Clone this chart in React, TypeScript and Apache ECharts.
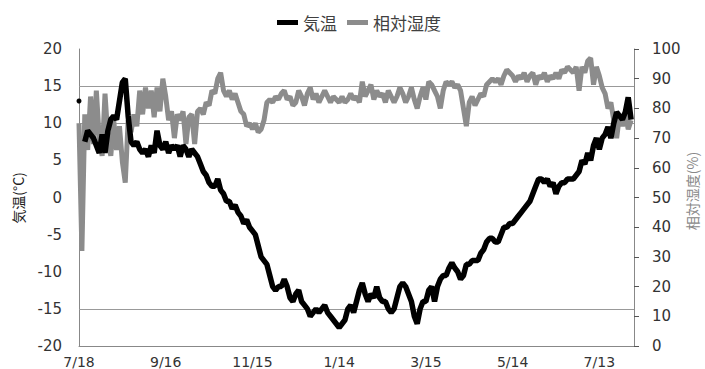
import React, { useEffect, useRef } from "react";
import * as echarts from "echarts";

// Readings every DAY_STEP days starting 7/18
const DAY_STEP = 2;
const AXIS_MAX_DAY = 384;
const TICK_INTERVAL_DAYS = 60;
const xTickLabels = ["7/18", "9/16", "11/15", "1/14", "3/15", "5/14", "7/13"];

const seriesNames = ["気温", "相対湿度"];

// Air temperature (°C); null marks a gap in the record
const temperature = [
  13, null, 7.5, 9, 8.5, 8, 7, 6, 8.5, 6,
  9, 10.5, 11, 10.5, 13, 15.5, 16, 11, 7.5, 7,
  7.5, 6.5, 6, 6.5, 5.5, 7, 6, 9, 7, 6.5,
  7.5, 6, 7, 6.5, 7, 5.5, 7, 6.5, 5.5, 6.5,
  6, 5.5, 4.5, 3.5, 3, 2, 1.5, 1.5, 2.5, 1,
  0.5, -0.5, -0.5, -1.5, -1, -2, -2.5, -3.5, -3, -4,
  -4.5, -5, -6.5, -8, -8.5, -9, -10.5, -12, -12.5, -12,
  -12, -11, -12, -13.5, -14, -13, -12.5, -14, -14.5, -15,
  -16, -15.5, -15, -15.5, -15, -14.5, -15.5, -16, -16.5, -17,
  -17.5, -17, -16.5, -15, -14.5, -15.5, -14, -12.5, -11.5, -13,
  -14, -13, -13.5, -12, -13.5, -14, -14, -15, -15.5, -15,
  -13.5, -12, -11.5, -12, -13, -14, -16, -17, -15, -14,
  -14, -12.5, -12, -14, -12, -11, -10.5, -10.5, -9.5, -8.8,
  -9.5, -10, -11, -10.5, -9, -9, -8.5, -8.5, -8.5, -7.5,
  -7, -6, -5.5, -5.5, -6, -6, -5, -4, -4, -3.5,
  -3.5, -3, -2.5, -2, -1.5, -1, -0.5, 0.5, 1.5, 2.5,
  2.5, 2, 2.5, 1.5, 2, 0.5, 1.5, 2, 2, 2.5,
  2.5, 2.5, 3, 3.5, 5, 4.5, 6, 5, 7, 8,
  6.5, 8, 8.5, 9.5, 8, 10, 11.5, 11, 10.5, 11.5,
  13.5, 10.5,
];

// Relative humidity (%)
const humidity = [
  75, 32, 78, 66, 84, 68, 86, 70, 64, 85,
  70, 64, 76, 66, 74, 62, 55, 76, 72, 78,
  74, 86, 78, 87, 80, 86, 77, 87, 79, 90,
  84, 76, 79, 70, 78, 76, 79, 68, 77, 78,
  68, 79, 80, 78, 82, 81, 86, 85, 90, 92,
  86, 84, 86, 83, 85, 82, 79, 78, 74, 75,
  73, 75, 72, 73, 76, 82, 83, 82, 84, 83,
  85, 86, 83, 84, 81, 82, 86, 84, 81, 85,
  87, 83, 85, 82, 84, 86, 84, 82, 84, 83,
  82, 84, 82, 83, 85, 83, 84, 82, 89, 84,
  86, 88, 83, 86, 84, 85, 82, 86, 84, 82,
  84, 87, 85, 82, 84, 87, 83, 80, 84, 87,
  83, 89, 88, 86, 84, 80, 86, 89, 88, 89,
  87, 88, 86, 80, 74, 82, 84, 81, 83, 85,
  84, 88, 89, 90, 89, 90, 88, 91, 93, 92,
  91, 89, 91, 90, 92, 89, 91, 92, 88, 91,
  90, 92, 89, 91, 90, 92, 90, 93, 92, 94,
  93, 92, 94, 86, 94, 92, 96, 97, 88, 94,
  91, 87, 85, 80, 82, 76, 70, 78, 74, 78,
  73, 76,
];

// Horizontal reference lines on the temperature scale
const tempGuideLines = [15, 10, -15];

const NUM_FONT = "'DejaVu Sans', Verdana, sans-serif";
const JP_FONT = "'Noto Sans CJK JP', sans-serif";

export default function App() {
  const ref = useRef<HTMLDivElement>(null);

  useEffect(() => {
    if (!ref.current) return;
    const chart = echarts.init(ref.current, null, { renderer: "svg" });

    // A reading with no neighbour on either side is drawn as a dot
    const tempData = temperature.map((v, i) => {
      const isolated =
        v !== null &&
        (i === 0 || temperature[i - 1] === null) &&
        (i === temperature.length - 1 || temperature[i + 1] === null);
      return isolated
        ? { value: [i * DAY_STEP, v], symbol: "circle", symbolSize: 5 }
        : { value: [i * DAY_STEP, v] };
    });
    const humData = humidity.map((v, i) => [i * DAY_STEP, v]);

    chart.setOption({
      animation: false,
      backgroundColor: "#ffffff",
      legend: {
        data: [
          { name: seriesNames[0], itemStyle: { color: "#000000" } },
          { name: seriesNames[1], itemStyle: { color: "#8c8c8c" } },
        ],
        left: 272,
        top: 9,
        icon: "rect",
        itemWidth: 21,
        itemHeight: 5,
        itemGap: 10,
        textStyle: { fontSize: 17, color: "#404040", fontFamily: JP_FONT },
      },
      grid: { left: 79, right: 71, top: 49, bottom: 22, containLabel: false },
      xAxis: {
        type: "value",
        min: 0,
        max: AXIS_MAX_DAY,
        interval: TICK_INTERVAL_DAYS,
        axisLine: { show: true, onZero: false, lineStyle: { color: "#888888", width: 1 } },
        axisTick: { show: false },
        splitLine: { show: false },
        axisLabel: {
          showMaxLabel: false,
          margin: 9,
          fontSize: 14,
          color: "#333333",
          fontFamily: NUM_FONT,
          formatter: (v: number) => xTickLabels[Math.round(v / TICK_INTERVAL_DAYS)] ?? "",
        },
      },
      yAxis: [
        {
          type: "value",
          min: -20,
          max: 20,
          interval: 5,
          position: "left",
          axisLine: { show: true, onZero: false, lineStyle: { color: "#888888", width: 1 } },
          axisTick: { show: false },
          splitLine: { show: false },
          axisLabel: { margin: 17, fontSize: 15, color: "#333333", fontFamily: NUM_FONT },
        },
        {
          type: "value",
          min: 0,
          max: 100,
          interval: 10,
          position: "right",
          axisLine: { show: true, onZero: false, lineStyle: { color: "#888888", width: 1 } },
          axisTick: { show: true, inside: false, length: 5, lineStyle: { color: "#555555" } },
          splitLine: { show: false },
          axisLabel: { margin: 18, fontSize: 15, color: "#333333", fontFamily: NUM_FONT },
        },
      ],
      graphic: [
        {
          type: "text",
          x: 18,
          y: 198,
          rotation: Math.PI / 2,
          style: {
            text: "気温(°C)",
            fontSize: 14,
            fontFamily: JP_FONT,
            fill: "#222222",
            align: "center",
            verticalAlign: "middle",
          },
        },
        {
          type: "text",
          x: 692,
          y: 191,
          rotation: Math.PI / 2,
          style: {
            text: "相対湿度(%)",
            fontSize: 14,
            fontFamily: JP_FONT,
            fill: "#888888",
            align: "center",
            verticalAlign: "middle",
          },
        },
      ],
      series: [
        {
          name: seriesNames[1],
          type: "line",
          yAxisIndex: 1,
          data: humData,
          showSymbol: false,
          z: 2,
          lineStyle: { color: "#8c8c8c", width: 5 },
          itemStyle: { color: "#8c8c8c" },
        },
        {
          name: seriesNames[0],
          type: "line",
          yAxisIndex: 0,
          data: tempData,
          symbol: "none",
          showSymbol: true,
          showAllSymbol: true,
          connectNulls: false,
          z: 3,
          lineStyle: { color: "#000000", width: 5.5 },
          itemStyle: { color: "#000000" },
          markLine: {
            silent: true,
            z: 1,
            symbol: "none",
            label: { show: false },
            lineStyle: { color: "#999999", width: 1, type: "solid" },
            data: tempGuideLines.map((v) => ({ yAxis: v })),
          },
        },
      ],
    });

    return () => chart.dispose();
  }, []);

  return (
    <div
      ref={ref}
      style={{ position: "fixed", left: 0, top: 0, width: 705, height: 369, background: "#fff" }}
    />
  );
}
